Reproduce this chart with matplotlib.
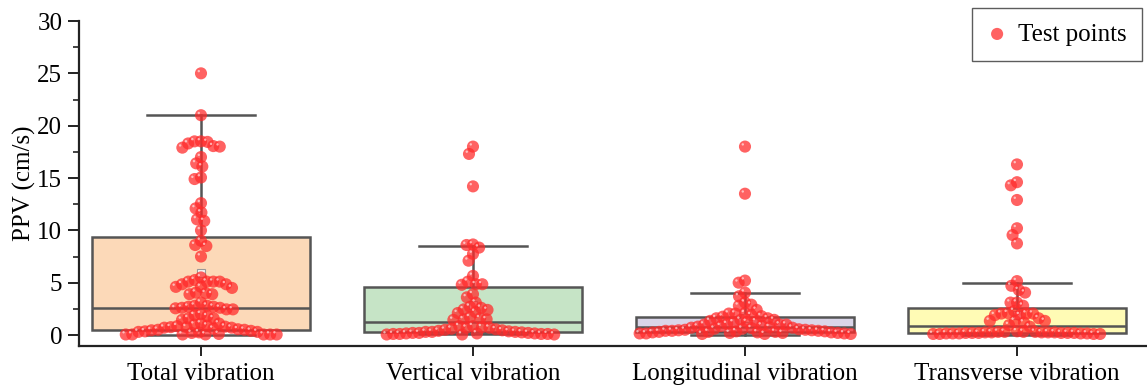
import numpy as np
import matplotlib.pyplot as plt
import matplotlib.transforms as mtransforms

# PPV test values (cm/s) for each vibration direction
categories = ['Total vibration', 'Vertical vibration',
              'Longitudinal vibration', 'Transverse vibration']

total_ppv = [25.0, 21.0, 18.5, 18.45, 18.5, 18.3, 17.9, 18.0, 18.05, 17.0, 16.4, 16.1,
             15.05, 14.9, 12.6, 12.1, 11.7, 11.05, 10.9, 10.0, 9.0, 8.6, 8.5, 7.5,
             5.5, 5.25, 5.1, 5.1, 5.1, 5.1, 4.85, 4.85, 4.6, 4.6, 4.5, 4.05, 4.0, 3.9, 3.9,
             3.1, 2.8, 2.8, 2.7, 2.7, 2.6, 2.6, 2.55, 2.45, 2.45, 2.0, 1.9, 1.8, 1.6, 1.6, 1.45,
             1.1, 1.1, 1.0, 0.9, 0.85, 0.8, 0.75, 0.75, 0.7, 0.7, 0.6, 0.55, 0.5, 0.5, 0.45,
             0.4, 0.35, 0.3, 0.3, 0.25, 0.2, 0.1, 0.05, 0.05, 0.05, 0.05, 0.05, 0.05, 0.05]
vertical_ppv = [18.0, 17.3, 14.2, 8.65, 8.6, 8.35, 7.75, 7.1, 5.65, 5.1, 4.85, 4.85, 4.8,
                3.9, 3.6, 3.1, 2.7, 2.6, 2.45, 2.4, 2.2, 2.1, 1.7, 1.6, 1.5, 1.5, 1.45,
                0.85, 0.85, 0.75, 0.7, 0.7, 0.6, 0.55, 0.5, 0.45, 0.4, 0.35, 0.3, 0.3, 0.3,
                0.25, 0.2, 0.2, 0.2, 0.15, 0.15, 0.15, 0.1, 0.1, 0.1, 0.1, 0.05, 0.05, 0.05]
longitudinal_ppv = [18.0, 13.5, 5.2, 5.0, 4.05, 3.7, 3.1, 2.9, 2.8, 2.4, 2.1, 2.05, 2.05,
                    1.9, 1.8, 1.75, 1.6, 1.6, 1.45, 1.45, 1.35, 1.3, 1.25, 1.2, 1.05, 1.0,
                    1.0, 1.0, 0.9, 0.85, 0.8, 0.75, 0.7, 0.7, 0.65, 0.6, 0.6, 0.55, 0.5, 0.5,
                    0.45, 0.45, 0.4, 0.4, 0.4, 0.35, 0.35, 0.3, 0.3, 0.3, 0.25, 0.25, 0.25,
                    0.2, 0.2, 0.2, 0.15, 0.15, 0.15, 0.1, 0.1, 0.1]
transverse_ppv = [16.3, 14.6, 14.3, 12.9, 10.2, 9.55, 8.75, 5.15, 4.7, 4.3, 4.05, 3.1, 3.1,
                  2.8, 2.3, 2.1, 2.05, 2.05, 2.05, 1.9, 1.9, 1.6, 1.35, 1.35, 1.35, 1.2,
                  0.95, 0.8, 0.35, 0.3, 0.3, 0.3, 0.3, 0.25, 0.25, 0.25, 0.25, 0.25, 0.2,
                  0.2, 0.2, 0.2, 0.2, 0.2, 0.15, 0.15, 0.15, 0.15, 0.15, 0.1, 0.1, 0.1, 0.1]

# box statistics
q1 = [0.48, 0.32, 0.3, 0.16]
medians = [2.55, 1.27, 0.8, 0.89]
q3 = [9.35, 4.55, 1.7, 2.55]
whisker_lo = [0.0, 0.05, 0.0, 0.0]
whisker_hi = [21.0, 8.5, 4.0, 4.95]
means = [5.95, 2.9, 1.6, 1.9]

box_colors = ['#FCD9B8', '#C6E4C6', '#DAD5E8', '#FFFBB5']

plt.rcParams['font.family'] = ['Liberation Serif', 'DejaVu Serif']

fig = plt.figure(figsize=(11.47, 3.85), dpi=100)
ax = fig.add_axes([79 / 1147, 39 / 385, 1 - 79 / 1147, (346 - 21) / 385])
ax.set_xlim(-0.4485, 3.478)
ax.set_ylim(-1.05, 30)

stats = []
for i in range(len(categories)):
    stats.append({'q1': q1[i], 'med': medians[i], 'q3': q3[i],
                  'whislo': whisker_lo[i], 'whishi': whisker_hi[i],
                  'mean': means[i], 'fliers': []})

line_kw = dict(color='#555555', linewidth=1.8)
bp = ax.bxp(stats, positions=range(len(categories)), widths=0.8, patch_artist=True,
            showmeans=True, showfliers=False, manage_ticks=False,
            boxprops=dict(edgecolor='#555555', linewidth=1.8),
            medianprops=line_kw, whiskerprops=line_kw, capprops=line_kw,
            capwidths=0.4,
            meanprops=dict(marker='s', markersize=6, markerfacecolor='#f4f4f4',
                           markeredgecolor='#999999', markeredgewidth=0.8))
for patch, c in zip(bp['boxes'], box_colors):
    patch.set_facecolor(c)


def greedy_swarm(ypix, spacing):
    # place largest values first, each as close to the centre as it can go
    order = np.argsort(-ypix, kind='stable')
    placed_x, placed_y = [], []
    offs = np.zeros(len(ypix))
    for idx in order:
        y = ypix[idx]
        cands = [0.0]
        for px, py in zip(placed_x, placed_y):
            dy = abs(py - y)
            if dy < spacing:
                dx = np.sqrt(spacing ** 2 - dy ** 2)
                cands += [px + dx, px - dx]
        cands.sort(key=lambda c: (abs(c), c))
        for c in cands:
            ok = True
            for px, py in zip(placed_x, placed_y):
                if (px - c) ** 2 + (py - y) ** 2 < spacing ** 2 - 1e-6:
                    ok = False
                    break
            if ok:
                break
        placed_x.append(c)
        placed_y.append(y)
        offs[idx] = c
    return offs


def swarm_x(values, center, spacing=6.5, yscale=0.7, half_width=0.39):
    vals = np.asarray(values, dtype=float)
    pix = ax.transData.transform(np.column_stack([np.full(len(vals), center), vals]))
    cx = pix[0, 0]
    limit = ax.transData.transform((center + half_width, 0))[0] - cx
    # vertical gaps count for less so that close values share a row
    offs = greedy_swarm(pix[:, 1] * yscale, spacing)
    while np.abs(offs).max() > limit:
        spacing *= 0.96
        offs = greedy_swarm(pix[:, 1] * yscale, spacing)
    return ax.transData.inverted().transform(
        np.column_stack([cx + offs, pix[:, 1]]))[:, 0]


all_values = [total_ppv, vertical_ppv, longitudinal_ppv, transverse_ppv]
shine = mtransforms.offset_copy(ax.transData, fig=fig, x=-1.6, y=1.6, units='points')
for i, vals in enumerate(all_values):
    xs = swarm_x(vals, i)
    ax.scatter(xs, vals, s=76, color='#ff2b2b', alpha=0.74, edgecolors='none',
               zorder=3, label='Test points' if i == 0 else None)
    ax.scatter(xs, vals, s=3, color='white', alpha=0.6, edgecolors='none',
               zorder=4, transform=shine)

ax.spines['top'].set_visible(False)
ax.spines['right'].set_visible(False)
for s in ['left', 'bottom']:
    ax.spines[s].set_linewidth(1.6)
    ax.spines[s].set_color('#222222')

ax.set_yticks(np.arange(0, 31, 5))
ax.set_yticks(np.arange(0, 30.1, 2.5), minor=True)
ax.set_xticks(range(len(categories)))
ax.set_xticklabels(categories)
ax.tick_params(axis='y', which='major', length=8, width=1.4, labelsize=18,
               color='#222222', pad=4)
ax.tick_params(axis='y', which='minor', length=4.5, width=1.2, color='#222222')
ax.tick_params(axis='x', length=7, width=1.4, labelsize=18, color='#222222', pad=5)
ax.set_ylabel('PPV (cm/s)', fontsize=18, labelpad=1)

leg = ax.legend(loc='upper right', bbox_to_anchor=(0.9953, 1.04), borderaxespad=0,
                fontsize=18, frameon=True, fancybox=False, edgecolor='#333333',
                handletextpad=0.45, borderpad=0.6, handlelength=0.8)
leg.get_frame().set_linewidth(1.0)

fig.savefig('out.png', dpi=100)
